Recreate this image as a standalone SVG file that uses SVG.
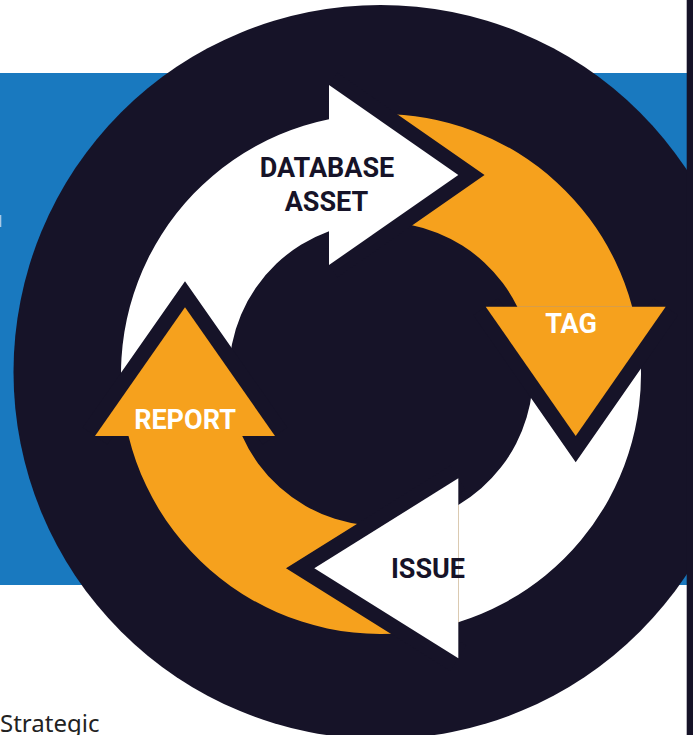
<svg xmlns="http://www.w3.org/2000/svg" width="693" height="735" viewBox="0 0 693 735">
<style>
.dark{fill:#161328}
.white{fill:#ffffff}
.orange{fill:#F6A11D}
.outline{fill:none;stroke:#161328;stroke-width:30;stroke-linejoin:miter;stroke-miterlimit:4}
.lbl{font-family:Roboto,"Liberation Sans",Arial,sans-serif;font-weight:700;font-size:27px;text-anchor:middle}
.lbl-dark{fill:#161328}
.lbl-light{fill:#ffffff}
</style>
<rect x="0" y="0" width="693" height="735" fill="#ffffff"/>
<rect x="0" y="73" width="687" height="512" fill="#1979BF"/>
<rect x="0" y="215" width="1.3" height="12" fill="#a9c9e6"/>
<circle class="dark" cx="380.5" cy="372" r="367"/>
<rect x="686.7" y="0" width="6.3" height="735" class="dark"/>
<text x="0" y="732" font-family="'Noto Sans','Open Sans','Liberation Sans',sans-serif" font-size="24" fill="#222222">Strategic</text>
<g id="connectors">
<path id="body-database" class="white" d="M 128.5 436 A 260 260 0 0 1 329 119.25 L 329 231.17 A 152 152 0 0 0 242.22 436 Z"/>
<path id="body-tag" class="orange" d="M 329 119.25 A 260 260 0 0 1 632.14 306.7 L 517.29 306.7 A 152 152 0 0 0 329 231.17 Z"/>
<path id="body-issue" class="white" d="M 632.14 306.7 A 260 260 0 0 1 458.3 622.24 L 458.3 504.88 A 152 152 0 0 0 517.29 306.7 Z"/>
<path id="body-report" class="orange" d="M 458.3 622.24 A 260 260 0 0 1 128.5 436 L 242.22 436 A 152 152 0 0 0 458.3 504.88 Z"/>
</g>
<g id="node-database">
<polyline class="outline" points="329,85 458.3,175 329,265"/>
<polygon class="white" points="329,85 458.3,175 329,265"/>
<text class="lbl lbl-dark" x="327" y="176.7">DATABASE</text>
<text class="lbl lbl-dark" x="326.5" y="211">ASSET</text>
</g>
<g id="node-tag">
<polyline class="outline" points="485.7,306.7 575.7,436 665.7,306.7"/>
<polygon class="orange" points="485.7,306.7 575.7,436 665.7,306.7"/>
<text class="lbl lbl-light" x="571" y="332.7">TAG</text>
</g>
<g id="node-issue">
<polyline class="outline" points="458.3,478.3 314.3,568.3 458.3,658.3"/>
<polygon class="white" points="458.3,478.3 314.3,568.3 458.3,658.3"/>
<text class="lbl lbl-dark" x="428" y="577.7">ISSUE</text>
</g>
<g id="node-report">
<polyline class="outline" points="95,436 185,307.3 275,436"/>
<polygon class="orange" points="95,436 185,307.3 275,436"/>
<text class="lbl lbl-light" x="185" y="429">REPORT</text>
</g>
</svg>
